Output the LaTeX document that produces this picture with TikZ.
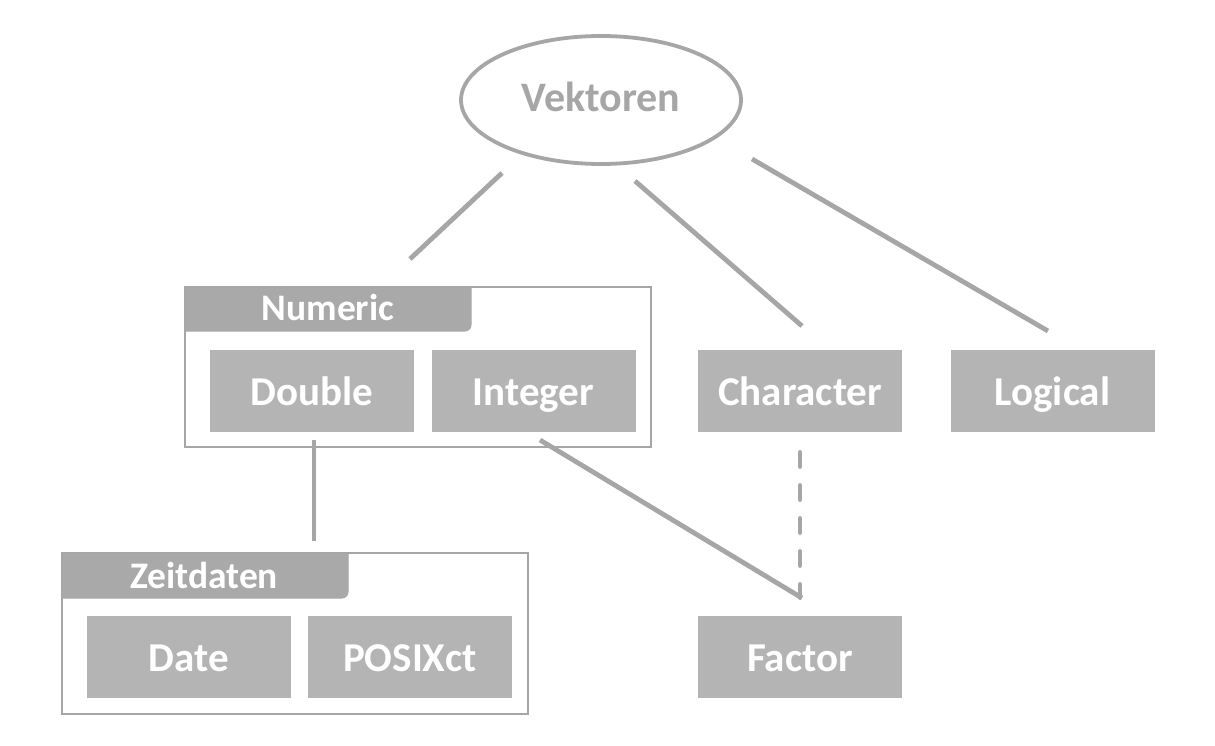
\documentclass[tikz,border=0pt]{standalone}
\usepackage{fontspec}
\setmainfont{Carlito}
\usetikzlibrary{shapes.geometric}
\definecolor{linegray}{HTML}{A6A6A6}
\definecolor{boxgray}{HTML}{B4B4B4}
\definecolor{tabgray}{HTML}{A9A9A9}
\tikzset{
  typebox/.style={fill=boxgray, minimum width=204pt, minimum height=82pt, inner sep=0pt,
    text height=30pt, text depth=2pt,
    text=white, font=\fontsize{41}{44}\selectfont\bfseries},
  tabtext/.style={text=white, inner sep=0pt, text height=27pt, text depth=2pt,
    font=\fontsize{37.5}{40}\selectfont\bfseries},
  container/.style={draw=linegray, line width=2.8pt},
  tabfill/.style={fill=tabgray, draw=tabgray, line width=1pt},
  link/.style={draw=linegray, line width=4.8pt},
  dlink/.style={draw=linegray, line width=4.8pt, line cap=round, dash pattern=on 14pt off 19pt}
}
\begin{document}
\begin{tikzpicture}[x=1pt,y=-1pt]
\useasboundingbox (0,0) rectangle (1215,746);
% root
\node[ellipse, draw=linegray, line width=3.8pt, fill=white, minimum width=280pt, minimum height=128pt,
  text height=26pt, text depth=2pt,
  text=linegray, font=\fontsize{42}{45}\selectfont\bfseries] (vek) at (601,100) {Vektoren};
% Numeric container
\draw[container] (185,287) rectangle (651,447);
\path[tabfill] (186,288) -- (471,288) [rounded corners=6pt] -- (471,331) [sharp corners] -- (186,331) -- cycle;
\node[tabtext] (numeric) at (328,308) {Numeric};
\node[typebox] (double) at (312,391) {Double};
\node[typebox] (integer) at (533.5,391) {Integer};
\node[typebox] (character) at (800,391) {Character};
\node[typebox] (logical) at (1052.5,391) {Logical};
% Zeitdaten container
\draw[container] (62,553) rectangle (528,714);
\path[tabfill] (63,554) -- (348,554) [rounded corners=6pt] -- (348,598) [sharp corners] -- (63,598) -- cycle;
\node[tabtext] (zeit) at (204,576) {Zeitdaten};
\node[typebox] (date) at (189,657) {Date};
\node[typebox] (posix) at (410,657) {POSIXct};
\node[typebox] (factor) at (800,657) {Factor};
% connector ends
\coordinate (v1) at (502,173);
\coordinate (n1) at (410,259);
\coordinate (v2) at (635,181);
\coordinate (c1) at (802,326);
\coordinate (v3) at (752,159);
\coordinate (l1) at (1048,331);
\coordinate (d1) at (314,440);
\coordinate (z1) at (314,541);
\coordinate (i1) at (540,440);
\coordinate (f1) at (802,598);
\coordinate (c2) at (800,452.5);
\coordinate (f2) at (800,597.5);
\draw[link] (v1) -- (n1);
\draw[link] (v2) -- (c1);
\draw[link] (v3) -- (l1);
\draw[link] (d1) -- (z1);
\draw[link] (i1) -- (f1);
\draw[dlink] (c2) -- (f2);
\end{tikzpicture}
\end{document}
